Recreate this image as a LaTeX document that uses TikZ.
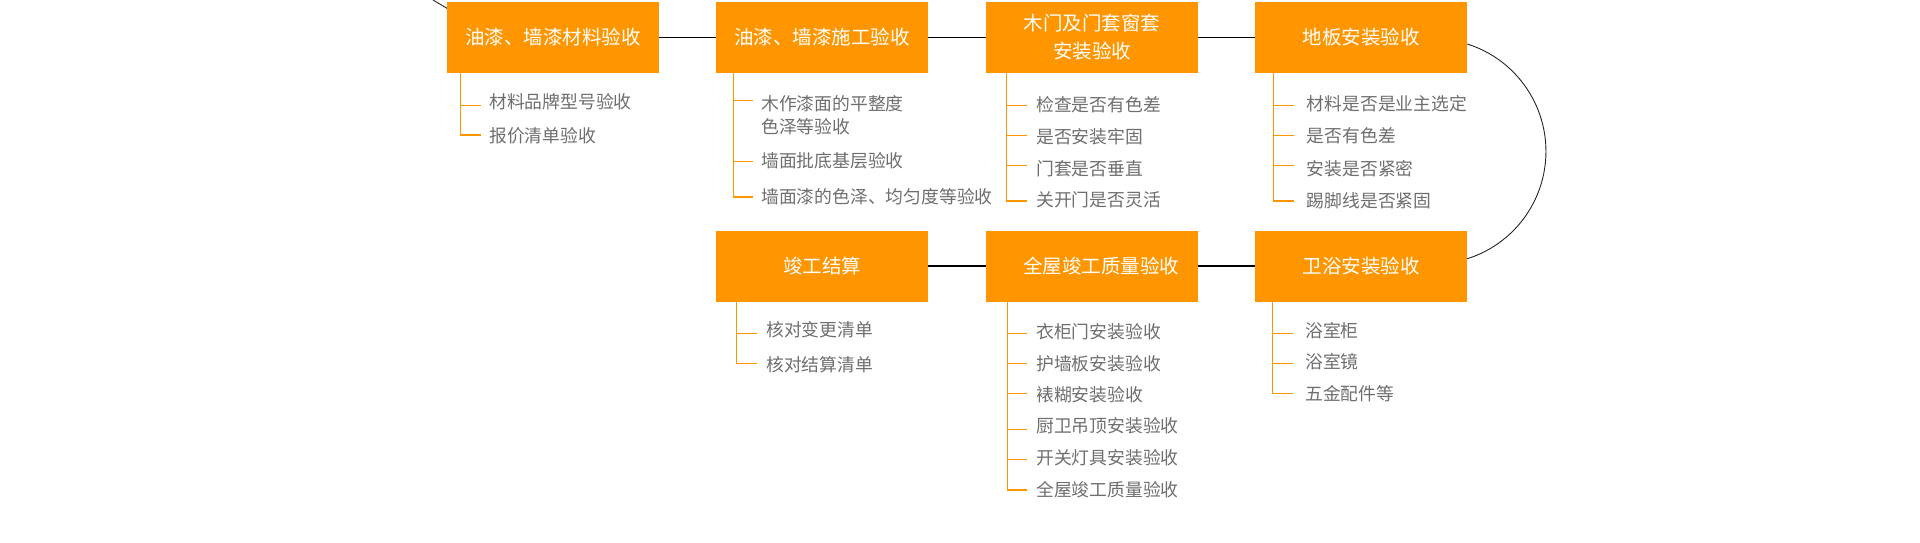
\documentclass[tikz,border=0pt]{standalone}
\usepackage{fontspec}
\setmainfont{Noto Sans CJK SC}
\definecolor{boxorange}{HTML}{FF9600}
\definecolor{itemgray}{HTML}{6E6E6E}
\tikzset{
  stage/.style={fill=boxorange, text=white, minimum width=212pt, minimum height=71pt,
    inner sep=0pt, align=center, font=\fontsize{19.5}{28}\selectfont},
  item/.style={anchor=west, inner sep=0pt, text=itemgray, align=left,
    font=\fontsize{17.8}{22.5}\selectfont},
  link/.style={draw=black, line width=1.1pt},
  tree/.style={draw=boxorange, line width=1.1pt},
  loopline/.style={draw=black!85, line width=0.9pt},
}
\begin{document}
\begin{tikzpicture}[x=1pt,y=-1pt]
\useasboundingbox (0,0) rectangle (1920,543);
% connectors first (boxes drawn over)
\coordinate (lstart) at (433,0);
\coordinate (lend) at (449,9.5);
\draw[loopline] (lstart) -- (lend);

% stage boxes
\node[stage] (n1) at (553,37.5) {油漆、墙漆材料验收};
\node[stage] (n2) at (822,37.5) {油漆、墙漆施工验收};
\node[stage] (n3) at (1092,37.5) {木门及门套窗套\\安装验收};
\node[stage] (n4) at (1361,37.5) {地板安装验收};
\node[stage] (n5) at (822,266) {竣工结算};
\node[stage] (n6) at (1092,266) {\hspace*{18pt}全屋竣工质量验收};
\node[stage] (n7) at (1361,266) {卫浴安装验收};

\draw[link] (n1.east) -- (n2.west);
\draw[link] (n2.east) -- (n3.west);
\draw[link] (n3.east) -- (n4.west);
\draw[link] (n5.east) -- (n6.west);
\draw[link] (n6.east) -- (n7.west);
\draw[loopline] ([yshift=-6.5pt]n4.east) arc[start angle=72.5, end angle=-72.5, radius=112.6pt];

% items of box 1
\node[item] (i11) at (489,101.5) {材料品牌型号验收};
\node[item] (i12) at (489,135.5) {报价清单验收};
\coordinate (v1) at (460.7,73);
\coordinate (t11) at (481,105.3);
\coordinate (t12) at (481,135);
\draw[tree] (v1) |- (t11);
\draw[tree] (v1) |- (t12);

% items of box 2
\node[item] (i21) at (761,115) {木作漆面的平整度\\色泽等验收};
\node[item] (i22) at (761,161) {墙面批底基层验收};
\node[item] (i23) at (761,197) {墙面漆的色泽、均匀度等验收};
\coordinate (v2) at (733.3,73);
\coordinate (t21) at (753,100.7);
\coordinate (t22) at (753,161.3);
\coordinate (t23) at (753,197);
\draw[tree] (v2) |- (t21);
\draw[tree] (v2) |- (t22);
\draw[tree] (v2) |- (t23);

% items of box 3
\node[item] (i31) at (1036,105) {检查是否有色差};
\node[item] (i32) at (1036,137) {是否安装牢固};
\node[item] (i33) at (1036,169) {门套是否垂直};
\node[item] (i34) at (1036,200) {关开门是否灵活};
\coordinate (v3) at (1006.7,73);
\coordinate (t31) at (1026.7,105.3);
\coordinate (t32) at (1026.7,135.3);
\coordinate (t33) at (1026.7,165.3);
\coordinate (t34) at (1026.7,201);
\draw[tree] (v3) |- (t31);
\draw[tree] (v3) |- (t32);
\draw[tree] (v3) |- (t33);
\draw[tree] (v3) |- (t34);

% items of box 4
\node[item] (i41) at (1306.7,103.5) {材料是否是业主选定};
\node[item] (i42) at (1306.7,136) {是否有色差};
\node[item] (i43) at (1306.7,168.5) {安装是否紧密};
\node[item] (i44) at (1306.7,200.5) {踢脚线是否紧固};
\coordinate (v4) at (1273.3,73);
\coordinate (t41) at (1294,105.3);
\coordinate (t42) at (1294,135.3);
\coordinate (t43) at (1294,165.3);
\coordinate (t44) at (1294,201);
\draw[tree] (v4) |- (t41);
\draw[tree] (v4) |- (t42);
\draw[tree] (v4) |- (t43);
\draw[tree] (v4) |- (t44);

% items of box 5
\node[item] (i51) at (766,330) {核对变更清单};
\node[item] (i52) at (766,364.5) {核对结算清单};
\coordinate (v5) at (736.7,302);
\coordinate (t51) at (756.7,333.3);
\coordinate (t52) at (756.7,363.3);
\draw[tree] (v5) |- (t51);
\draw[tree] (v5) |- (t52);

% items of box 6
\node[item] (i61) at (1036,332) {衣柜门安装验收};
\node[item] (i62) at (1036,363.5) {护墙板安装验收};
\node[item] (i63) at (1036,394.5) {裱糊安装验收};
\node[item] (i64) at (1036,425.5) {厨卫吊顶安装验收};
\node[item] (i65) at (1036,457.5) {开关灯具安装验收};
\node[item] (i66) at (1036,489.5) {全屋竣工质量验收};
\coordinate (v6) at (1007.3,302);
\coordinate (t61) at (1027.3,333.3);
\coordinate (t62) at (1027.3,363.3);
\coordinate (t63) at (1027.3,393.3);
\coordinate (t64) at (1027.3,429.3);
\coordinate (t65) at (1027.3,459.3);
\coordinate (t66) at (1027.3,490);
\draw[tree] (v6) |- (t61);
\draw[tree] (v6) |- (t62);
\draw[tree] (v6) |- (t63);
\draw[tree] (v6) |- (t64);
\draw[tree] (v6) |- (t65);
\draw[tree] (v6) |- (t66);

% items of box 7
\node[item] (i71) at (1305,331) {浴室柜};
\node[item] (i72) at (1305,362) {浴室镜};
\node[item] (i73) at (1305,393.3) {五金配件等};
\coordinate (v7) at (1272.3,302);
\coordinate (t71) at (1292.7,333.3);
\coordinate (t72) at (1292.7,363.3);
\coordinate (t73) at (1292.7,393.3);
\draw[tree] (v7) |- (t71);
\draw[tree] (v7) |- (t72);
\draw[tree] (v7) |- (t73);
\end{tikzpicture}
\end{document}
